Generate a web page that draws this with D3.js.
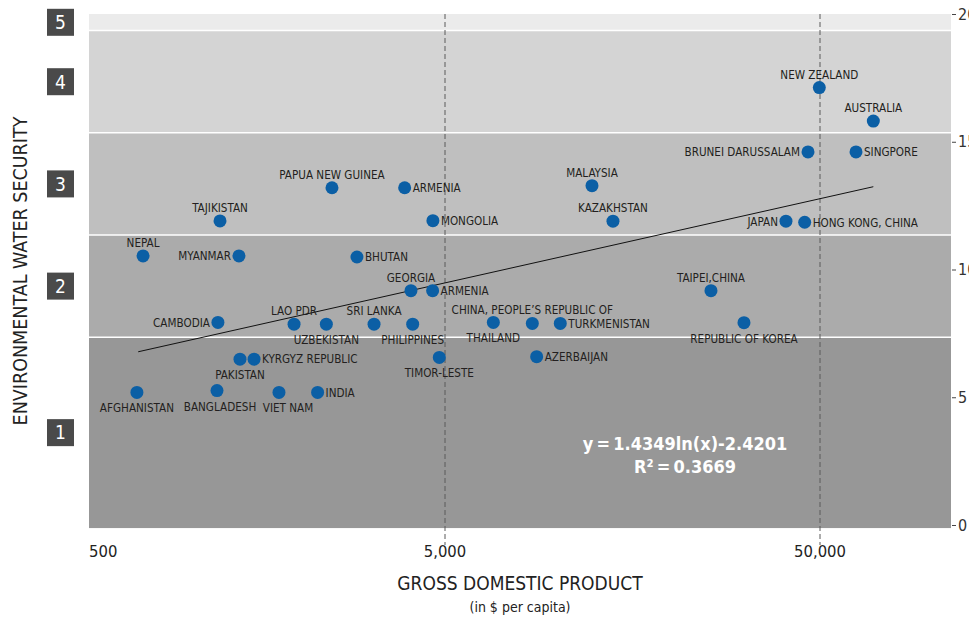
<!DOCTYPE html>
<html>
<head>
<meta charset="utf-8">
<script src="https://cdn.jsdelivr.net/npm/d3@7"></script>
<style>
  html, body { margin: 0; padding: 0; background: #fff; }
  svg text { font-family: "Liberation Sans Narrow", "DejaVu Sans Condensed", "Open Sans", sans-serif; }
</style>
</head>
<body>
<svg id="chart" width="969" height="617"></svg>
<script>
// ---- data ----
const countries = ["AFGHANISTAN","BANGLADESH","VIET NAM","INDIA","PAKISTAN","KYRGYZ REPUBLIC","CAMBODIA","LAO PDR","UZBEKISTAN","SRI LANKA","PHILIPPINES","GEORGIA","ARMENIA","TIMOR-LESTE","THAILAND","CHINA, PEOPLE\u2019S REPUBLIC OF","TURKMENISTAN","AZERBAIJAN","TAIPEI,CHINA","REPUBLIC OF KOREA","PAPUA NEW GUINEA","ARMENIA","MONGOLIA","BHUTAN","MALAYSIA","KAZAKHSTAN","TAJIKISTAN","NEPAL","MYANMAR","NEW ZEALAND","AUSTRALIA","BRUNEI DARUSSALAM","SINGPORE","JAPAN","HONG KONG, CHINA"];
const gdpPerCapita = [754,1233,1804,2287,1420,1548,1240,1979,2413,3234,4100,4057,4634,4828,6728,8547,10148,8778,25600,31350,2498,3903,4642,2912,12330,14025,1256,783,1411,49790,69370,46450,62370,40570,45510];
const waterSecurity = [5.19,5.26,5.19,5.19,6.49,6.49,7.93,7.86,7.86,7.86,7.86,9.17,9.17,6.56,7.93,7.89,7.89,6.59,9.17,7.92,13.2,13.2,11.91,10.49,13.28,11.89,11.9,10.53,10.53,17.12,15.81,14.6,14.6,11.89,11.85];
const labelSide = ["below","below","below","right","below","right","left","above","below","above","below","above","right","below","below","above","right","right","above","below","above","right","right","right","above","above","above","above","left","above","above","left","right","left","right"];

const bandEdges = [-0.12, 7.35, 11.35, 15.35, 19.35, 20];
const bandLabels = ["1","2","3","4","5"];
const bandColors = ["#979797","#ababab","#bfbfbf","#d4d4d4","#ebebeb"];

const xTicks = [500, 5000, 50000];
const yTicks = [0, 5, 10, 15, 20];
const trendGdp = [760, 69370];
const trendY = [6.78, 13.24];
const equationLines = ["y\u2009=\u20091.4349ln(x)-2.4201", "R\u00B2\u2009=\u20090.3669"];
const xTitle = "GROSS DOMESTIC PRODUCT";
const xSubtitle = "(in $ per capita)";
const yTitle = "ENVIRONMENTAL WATER SECURITY";

// ---- layout ----
const svg = d3.select("#chart");
const plotLeft = 89, plotRight = 951;
const x = d3.scaleLog().domain([5000, 50000]).range([445, 820]);
const y = d3.scaleLinear().domain([0, 20]).range([525, 14]);
const labelDx = { 1: 3, 2: 9 };

// bands
const bands = bandLabels.map((l, i) => ({ label: l, lo: bandEdges[i], hi: bandEdges[i + 1], color: bandColors[i] }));
svg.append("g").selectAll("rect").data(bands).join("rect")
  .attr("x", plotLeft).attr("width", plotRight - plotLeft)
  .attr("y", d => y(d.hi)).attr("height", d => y(d.lo) - y(d.hi))
  .attr("fill", d => d.color);
svg.append("g").selectAll("line").data(bandEdges.slice(1, 5)).join("line")
  .attr("x1", plotLeft).attr("x2", plotRight)
  .attr("y1", d => y(d)).attr("y2", d => y(d))
  .attr("stroke", "#ffffff").attr("stroke-width", 1.5);

// band number boxes
const bx = svg.append("g").selectAll("g").data(bands).join("g")
  .attr("transform", d => `translate(60.5,${(y(d.lo) + y(d.hi)) / 2})`);
bx.append("rect").attr("x", -13.5).attr("y", -13.5).attr("width", 27).attr("height", 27).attr("fill", "#4a4a4a");
bx.append("text").attr("text-anchor", "middle").attr("dy", "0.36em")
  .attr("fill", "#fff").attr("font-size", 19).text(d => d.label);

// dashed verticals
svg.append("g").selectAll("line").data(xTicks.slice(1)).join("line")
  .attr("x1", d => x(d)).attr("x2", d => x(d))
  .attr("y1", y(20)).attr("y2", 545)
  .attr("stroke", "#5a5a5a").attr("stroke-width", 1).attr("stroke-dasharray", "5,3");

// x tick labels
svg.append("g").selectAll("text").data(xTicks).join("text")
  .attr("x", d => Math.max(x(d), plotLeft))
  .attr("text-anchor", d => x(d) < plotLeft ? "start" : "middle")
  .attr("y", 557).attr("font-size", 16.5).attr("fill", "#222")
  .text(d => d3.format(",")(d));

// right axis
const yAxis = d3.axisRight(y).tickValues(yTicks).tickSize(4).tickPadding(2);
const ga = svg.append("g").attr("transform", `translate(${plotRight + 1},0)`).call(yAxis);
ga.select(".domain").remove();
ga.selectAll("line").attr("stroke", "#444");
ga.selectAll("text").attr("font-size", 16).attr("fill", "#333")
  .style("font-family", "'Liberation Sans Narrow','DejaVu Sans Condensed',sans-serif");

// trend line
const trend = trendGdp.map((g, i) => [x(g), y(trendY[i])]);
svg.append("path").attr("d", d3.line()(trend)).attr("stroke", "#111").attr("stroke-width", 1).attr("fill", "none");

// points
const pts = countries.map((c, i) => ({ i, name: c, gdp: gdpPerCapita[i], v: waterSecurity[i], side: labelSide[i] }));
svg.append("g").selectAll("circle").data(pts).join("circle")
  .attr("cx", d => x(d.gdp)).attr("cy", d => y(d.v)).attr("r", 6.5).attr("fill", "#0b5fa5");

const off = { above: [0, -9, "middle"], below: [0, 20, "middle"], left: [-8, 4.3, "end"], right: [8, 4.3, "start"] };
svg.append("g").selectAll("text").data(pts).join("text")
  .attr("x", d => x(d.gdp) + off[d.side][0] + (labelDx[d.i] || 0))
  .attr("y", d => y(d.v) + off[d.side][1])
  .attr("text-anchor", d => off[d.side][2])
  .attr("font-size", 11.6).attr("fill", "#231f20")
  .text(d => d.name);

// equation
svg.append("g").selectAll("text").data(equationLines).join("text")
  .attr("x", 685).attr("y", (d, i) => 450 + i * 23)
  .attr("text-anchor", "middle").attr("font-size", 18).attr("font-weight", "bold").attr("fill", "#fff")
  .text(d => d);

// titles
svg.append("text").attr("x", (plotLeft + plotRight) / 2).attr("y", 590)
  .attr("text-anchor", "middle").attr("font-size", 19).attr("fill", "#222").text(xTitle);
svg.append("text").attr("x", (plotLeft + plotRight) / 2).attr("y", 612)
  .attr("text-anchor", "middle").attr("font-size", 14).attr("fill", "#222").text(xSubtitle);
svg.append("text").attr("transform", `translate(27,${(y(20) + 528) / 2}) rotate(-90)`)
  .attr("text-anchor", "middle").attr("font-size", 19.5).attr("fill", "#222").text(yTitle);
</script>
</body>
</html>
